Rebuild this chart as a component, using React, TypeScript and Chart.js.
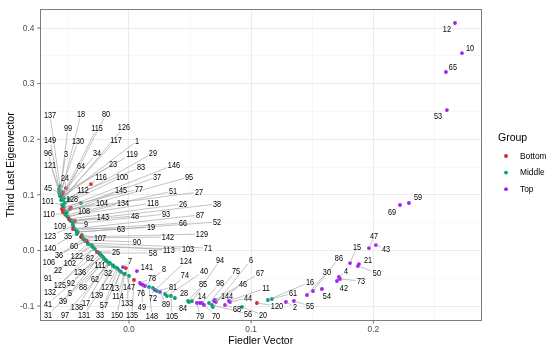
import React, { useEffect, useRef } from "react";
import { Chart, registerables } from "chart.js";

Chart.register(...registerables);

const B = "Bottom";
const M = "Middle";
const T = "Top";

const groupNames = [B, M, T];
const groupColors = ["#DD1C1C", "#009E73", "#A020F0"];

const ids = [
  1, 3, 18, 23, 24, 29, 34, 37, 45, 64,
  77, 80, 83, 95, 96, 99, 100, 101, 110, 112,
  115, 116, 117, 119, 121, 126, 130, 137, 145, 146,
  149, 128, 51, 27, 108, 104, 134, 118, 26, 38,
  143, 48, 93, 87, 109, 9, 63, 19, 66, 52,
  123, 35, 107, 142, 129, 90, 140, 60, 25, 58,
  113, 103, 71, 36, 122, 82, 106, 102, 111, 22,
  136, 32, 91, 92, 62, 125, 88, 127, 13, 132,
  5, 139, 114, 41, 39, 17, 57, 133, 138, 31,
  97, 131, 33, 150, 135, 148, 49, 7, 141, 147,
  78, 76, 8, 72, 124, 81, 89, 74, 105, 28,
  40, 84, 94, 85, 79, 14, 98, 70, 75, 6,
  56, 144, 46, 67, 68, 44, 11, 20, 120, 61,
  16, 2, 55, 30, 54, 86, 4, 42, 73, 15,
  21, 50, 47, 43, 69, 59, 12, 10, 65, 53,
];

const groups = [
  M, M, M, M, B, M, M, M, M, M,
  M, M, M, B, M, M, M, M, M, B,
  M, M, M, B, M, M, M, M, M, B,
  M, M, M, B, B, B, M, M, B, M,
  M, B, M, B, M, M, M, M, M, M,
  M, M, M, M, B, M, M, B, B, M,
  M, M, M, M, M, M, M, M, M, M,
  M, M, M, M, M, M, M, M, M, M,
  M, M, M, M, M, M, M, M, M, M,
  M, M, M, M, B, M, T, T, T, B,
  T, T, T, M, T, M, T, M, M, M,
  M, M, M, M, T, T, T, T, M, M,
  M, T, T, T, T, T, T, M, B, M,
  M, T, T, T, T, T, T, T, T, T,
  T, T, T, T, T, T, T, T, T, T,
];

const fiedler = [
  -0.0548, -0.0565, -0.0556, -0.0548, -0.0516, -0.0524, -0.0540, -0.0532, -0.0573, -0.0556,
  -0.0532, -0.0540, -0.0540, -0.0540, -0.0565, -0.0565, -0.0540, -0.0548, -0.0524, -0.0311,
  -0.0548, -0.0491, -0.0556, -0.0540, -0.0548, -0.0532, -0.0565, -0.0565, -0.0507, -0.0548,
  -0.0573, -0.0393, -0.0516, -0.0540, -0.0475, -0.0483, -0.0499, -0.0507, -0.0491, -0.0475,
  -0.0466, -0.0442, -0.0458, -0.0458, -0.0483, -0.0458, -0.0450, -0.0426, -0.0434, -0.0417,
  -0.0458, -0.0426, -0.0385, -0.0376, -0.0393, -0.0360, -0.0426, -0.0344, -0.0262, -0.0237,
  -0.0303, -0.0295, -0.0336, -0.0360, -0.0303, -0.0245, -0.0376, -0.0278, -0.0188, -0.0336,
  -0.0213, -0.0131, -0.0311, -0.0237, -0.0164, -0.0286, -0.0205, -0.0098, -0.0074, -0.0254,
  -0.0229, -0.0131, -0.0041, -0.0221, -0.0188, -0.0155, -0.0090, 0.0000, -0.0172, -0.0205,
  -0.0164, -0.0115, -0.0065, -0.0033, 0.0041, 0.0164, 0.0115, -0.0049, 0.0065, -0.0025,
  0.0090, 0.0098, 0.0131, 0.0196, 0.0213, 0.0229, 0.0254, 0.0295, 0.0344, 0.0376,
  0.0311, 0.0491, 0.0516, 0.0483, 0.0556, 0.0581, 0.0597, 0.0614, 0.0655, 0.0687,
  0.0679, 0.0696, 0.0712, 0.0704, 0.0786, 0.0827, 0.0818, 0.0925, 0.1047, 0.1170,
  0.1137, 0.1285, 0.1350, 0.1457, 0.1579, 0.1506, 0.1718, 0.1702, 0.1727, 0.1809,
  0.1882, 0.1874, 0.1964, 0.2021, 0.2218, 0.2291, 0.2668, 0.2725, 0.2594, 0.2602,
];

const thirdLast = [
  0.0942, 0.1068, 0.1014, 0.0978, 0.1122, 0.0853, 0.1050, 0.0727, 0.1050, 0.0996,
  0.0781, 0.0924, 0.0906, 0.0691, 0.0978, 0.1032, 0.0817, 0.0817, 0.0655, 0.1194,
  0.0960, 0.0924, 0.0906, 0.1032, 0.0996, 0.0942, 0.1014, 0.1158, 0.0691, 0.0745,
  0.1104, 0.0853, 0.0637, 0.0727, 0.0763, 0.0745, 0.0601, 0.0619, 0.0565, 0.0529,
  0.0529, 0.0529, 0.0475, 0.0385, 0.0547, 0.0511, 0.0403, 0.0331, 0.0367, 0.0331,
  0.0439, 0.0295, 0.0277, 0.0223, 0.0241, 0.0187, 0.0313, 0.0169, -0.0029, -0.0047,
  0.0097, 0.0061, 0.0133, 0.0169, 0.0079, -0.0047, 0.0205, 0.0025, -0.0173, 0.0115,
  -0.0119, -0.0263, 0.0097, -0.0065, -0.0227, 0.0043, -0.0137, -0.0317, -0.0371, -0.0029,
  -0.0083, -0.0281, -0.0424, -0.0101, -0.0191, -0.0227, -0.0335, -0.0460, -0.0209, -0.0155,
  -0.0245, -0.0299, -0.0388, -0.0424, -0.0532, -0.0658, -0.0622, -0.0299, -0.0371, -0.0317,
  -0.0586, -0.0604, -0.0640, -0.0676, -0.0712, -0.0730, -0.0748, -0.0784, -0.0820, -0.0856,
  -0.0820, -0.0928, -0.0910, -0.0910, -0.0946, -0.0946, -0.0946, -0.0982, -0.0946, -0.1018,
  -0.0982, -0.0910, -0.0928, -0.0892, -0.0982, -0.0928, -0.0910, -0.1018, -0.0946, -0.0874,
  -0.0892, -0.0928, -0.0910, -0.0802, -0.0694, -0.0730, -0.0478, -0.0550, -0.0514, -0.0227,
  -0.0245, -0.0281, 0.0043, 0.0097, 0.0817, 0.0853, 0.4090, 0.3550, 0.3209, 0.2525,
];

// repelled label anchors (data units)
const labelFiedler = [
  0.0065, -0.0516, -0.0393, -0.0131, -0.0524, 0.0196, -0.0262, 0.0229, -0.0663, -0.0393,
  0.0082, -0.0188, 0.0098, 0.0491, -0.0663, -0.0499, -0.0057, -0.0663, -0.0655, -0.0376,
  -0.0262, -0.0229, -0.0106, 0.0025, -0.0646, -0.0041, -0.0417, -0.0646, -0.0065, 0.0368,
  -0.0646, -0.0466, 0.0360, 0.0573, -0.0368, -0.0221, -0.0049, 0.0196, 0.0442, 0.0720,
  -0.0213, 0.0049, 0.0303, 0.0581, -0.0565, -0.0352, -0.0065, 0.0180, 0.0442, 0.0720,
  -0.0646, -0.0499, -0.0237, 0.0319, 0.0597, 0.0065, -0.0646, -0.0450, -0.0106, 0.0196,
  0.0327, 0.0483, 0.0646, -0.0573, -0.0426, -0.0319, -0.0655, -0.0483, -0.0237, -0.0581,
  -0.0401, -0.0172, -0.0663, -0.0475, -0.0278, -0.0565, -0.0376, -0.0180, -0.0115, -0.0646,
  -0.0483, -0.0262, -0.0090, -0.0663, -0.0540, -0.0352, -0.0205, -0.0016, -0.0426, -0.0663,
  -0.0524, -0.0368, -0.0237, -0.0098, 0.0025, 0.0188, 0.0106, 0.0008, 0.0147, 0.0000,
  0.0188, 0.0098, 0.0286, 0.0196, 0.0466, 0.0360, 0.0303, 0.0458, 0.0352, 0.0450,
  0.0614, 0.0442, 0.0745, 0.0606, 0.0581, 0.0597, 0.0745, 0.0712, 0.0876, 0.0998,
  0.0974, 0.0802, 0.0933, 0.1072, 0.0884, 0.0974, 0.1121, 0.1097, 0.1211, 0.1342,
  0.1481, 0.1358, 0.1481, 0.1620, 0.1620, 0.1718, 0.1776, 0.1759, 0.1899, 0.1866,
  0.1956, 0.2029, 0.2005, 0.2103, 0.2152, 0.2365, 0.2602, 0.2791, 0.2651, 0.2529,
];

const labelThirdLast = [
  0.1968, 0.1734, 0.2453, 0.1554, 0.1302, 0.1752, 0.1752, 0.1320, 0.1122, 0.1518,
  0.1104, 0.2453, 0.1500, 0.1320, 0.1752, 0.2201, 0.1320, 0.0888, 0.0655, 0.1086,
  0.2201, 0.1320, 0.1986, 0.1734, 0.1536, 0.2219, 0.1968, 0.2435, 0.1086, 0.1536,
  0.1986, 0.0924, 0.1068, 0.1050, 0.0709, 0.0853, 0.0853, 0.0853, 0.0835, 0.0835,
  0.0601, 0.0619, 0.0655, 0.0637, 0.0439, 0.0475, 0.0385, 0.0421, 0.0493, 0.0511,
  0.0259, 0.0259, 0.0223, 0.0241, 0.0295, 0.0151, 0.0043, 0.0079, -0.0029, -0.0047,
  0.0007, 0.0025, 0.0043, -0.0083, -0.0101, -0.0137, -0.0209, -0.0227, -0.0263, -0.0353,
  -0.0388, -0.0406, -0.0496, -0.0586, -0.0514, -0.0622, -0.0658, -0.0658, -0.0676, -0.0748,
  -0.0766, -0.0802, -0.0820, -0.0964, -0.0910, -0.0946, -0.0982, -0.0946, -0.1018, -0.1162,
  -0.1162, -0.1162, -0.1162, -0.1162, -0.1162, -0.1180, -0.1018, -0.0191, -0.0299, -0.0658,
  -0.0496, -0.0766, -0.0335, -0.0856, -0.0191, -0.0658, -0.0964, -0.0442, -0.1180, -0.0766,
  -0.0371, -0.1036, -0.0173, -0.0604, -0.1180, -0.0820, -0.0586, -0.1180, -0.0371, -0.0173,
  -0.1144, -0.0820, -0.0604, -0.0406, -0.1054, -0.0856, -0.0676, -0.1162, -0.1000, -0.0766,
  -0.0568, -0.1018, -0.1000, -0.0388, -0.0820, -0.0137, -0.0371, -0.0676, -0.0550, 0.0061,
  -0.0173, -0.0406, 0.0259, 0.0025, 0.0691, 0.0960, 0.3982, 0.3640, 0.3299, 0.2417,
];

const xGridValues = [-0.05, 0, 0.05, 0.1, 0.15, 0.2, 0.25];
const yGridValues = [-0.1, -0.05, 0, 0.05, 0.1, 0.15, 0.2, 0.25, 0.3, 0.35, 0.4];
const xTickValues = [0, 0.1, 0.2];
const xTickLabels = ["0.0", "0.1", "0.2"];
const yTickValues = [-0.1, 0, 0.1, 0.2, 0.3, 0.4];
const yTickLabels = ["-0.1", "0.0", "0.1", "0.2", "0.3", "0.4"];

const X_MIN = -0.0728;
const X_MAX = 0.2885;
const Y_MIN = -0.1264;
const Y_MAX = 0.4342;

const FONT = '"Liberation Sans", Arial, Helvetica, sans-serif';
const LABEL_SQUEEZE = 0.87;

const isMajor = (v: number) => Math.abs(v * 10 - Math.round(v * 10)) < 1e-6;

const decorPlugin = {
  id: "ggDecor",
  afterDatasetsDraw(chart: any) {
    const ctx: CanvasRenderingContext2D = chart.ctx;
    const xs = chart.scales.x;
    const ys = chart.scales.y;
    const area = chart.chartArea;

    ctx.save();
    ctx.beginPath();
    ctx.rect(area.left, area.top, area.right - area.left, area.bottom - area.top);
    ctx.clip();

    // leader segments
    ctx.font = `8.4px ${FONT}`;
    ctx.strokeStyle = "#9a9a9a";
    ctx.lineWidth = 0.6;
    for (let i = 0; i < ids.length; i++) {
      const px = xs.getPixelForValue(fiedler[i]);
      const py = ys.getPixelForValue(thirdLast[i]);
      const lx = xs.getPixelForValue(labelFiedler[i]);
      const ly = ys.getPixelForValue(labelThirdLast[i]);
      const w = ctx.measureText(String(ids[i])).width * LABEL_SQUEEZE;
      const hw = w / 2 + 1;
      const hh = 4.2;
      const dx = px - lx;
      const dy = py - ly;
      if (Math.abs(dx) <= hw && Math.abs(dy) <= hh) continue;
      const tx = dx === 0 ? Infinity : hw / Math.abs(dx);
      const ty = dy === 0 ? Infinity : hh / Math.abs(dy);
      const t = Math.min(tx, ty);
      const ex = lx + dx * t;
      const ey = ly + dy * t;
      if (Math.hypot(px - ex, py - ey) < 5) continue;
      ctx.beginPath();
      ctx.moveTo(ex, ey);
      ctx.lineTo(px, py);
      ctx.stroke();
    }

    // labels
    ctx.fillStyle = "#000000";
    ctx.textAlign = "center";
    ctx.textBaseline = "middle";
    for (let i = 0; i < ids.length; i++) {
      const lx = xs.getPixelForValue(labelFiedler[i]);
      const ly = ys.getPixelForValue(labelThirdLast[i]);
      ctx.save();
      ctx.translate(lx, ly + 0.5);
      ctx.scale(LABEL_SQUEEZE, 1);
      ctx.fillText(String(ids[i]), 0, 0);
      ctx.restore();
    }
    ctx.restore();

    // panel border
    ctx.save();
    ctx.strokeStyle = "#7d7d7d";
    ctx.lineWidth = 1;
    ctx.strokeRect(
      Math.round(area.left) + 0.5,
      Math.round(area.top) + 0.5,
      Math.round(area.right - area.left) - 1,
      Math.round(area.bottom - area.top) - 1
    );

    // ticks
    ctx.strokeStyle = "#4d4d4d";
    ctx.lineWidth = 0.8;
    ctx.fillStyle = "#4d4d4d";
    ctx.font = `8.4px ${FONT}`;
    ctx.textAlign = "center";
    ctx.textBaseline = "middle";
    xTickValues.forEach((v, k) => {
      const x = xs.getPixelForValue(v);
      ctx.beginPath();
      ctx.moveTo(x, area.bottom);
      ctx.lineTo(x, area.bottom + 2.8);
      ctx.stroke();
      ctx.fillText(xTickLabels[k], x, area.bottom + 8.8);
    });
    ctx.textAlign = "right";
    yTickValues.forEach((v, k) => {
      const y = ys.getPixelForValue(v);
      ctx.beginPath();
      ctx.moveTo(area.left - 2.8, y);
      ctx.lineTo(area.left, y);
      ctx.stroke();
      ctx.fillText(yTickLabels[k], area.left - 5.6, y + 0.5);
    });

    // axis titles
    ctx.fillStyle = "#000000";
    ctx.font = `10.5px ${FONT}`;
    ctx.textAlign = "center";
    ctx.fillText("Fiedler Vector", (area.left + area.right) / 2, area.bottom + 20.5);
    ctx.save();
    ctx.translate(11, (area.top + area.bottom) / 2);
    ctx.rotate(-Math.PI / 2);
    ctx.fillText("Third Last Eigenvector", 0, 0);
    ctx.restore();

    // legend
    ctx.textAlign = "left";
    ctx.font = `10.5px ${FONT}`;
    ctx.fillText("Group", 498, 138.5);
    ctx.font = `8.4px ${FONT}`;
    groupNames.forEach((g, k) => {
      const y = 156 + k * 16.6;
      ctx.fillStyle = groupColors[k];
      ctx.beginPath();
      ctx.arc(506, y, 1.9, 0, Math.PI * 2);
      ctx.fill();
      ctx.fillStyle = "#000000";
      ctx.fillText(g, 520, y + 0.5);
    });
    ctx.restore();
  },
};

export default function App() {
  const canvasRef = useRef<HTMLCanvasElement | null>(null);

  useEffect(() => {
    const canvas = canvasRef.current;
    if (!canvas) return;
    const datasets = groupNames.map((g, k) => ({
      label: g,
      data: ids
        .map((_, i) => i)
        .filter((i) => groups[i] === g)
        .map((i) => ({ x: fiedler[i], y: thirdLast[i] })),
      backgroundColor: groupColors[k],
      borderWidth: 0,
      pointRadius: 1.9,
      pointHoverRadius: 1.9,
    }));

    const gridColor = (c: any) =>
      c.tick && isMajor(c.tick.value) ? "#EBEBEB" : "#F4F4F4";
    const gridWidth = (c: any) => (c.tick && isMajor(c.tick.value) ? 1 : 0.7);

    const chart = new Chart(canvas, {
      type: "scatter",
      data: { datasets },
      options: {
        responsive: false,
        animation: false,
        devicePixelRatio: 1,
        layout: { padding: { left: 0, top: 9, right: 68.5, bottom: 0 } },
        plugins: {
          legend: { display: false },
          tooltip: { enabled: false },
        },
        scales: {
          x: {
            type: "linear",
            min: X_MIN,
            max: X_MAX,
            ticks: { display: false },
            border: { display: false },
            grid: { color: gridColor, lineWidth: gridWidth, drawTicks: false },
            afterBuildTicks: (s: any) => {
              s.ticks = xGridValues.map((v) => ({ value: v }));
            },
            afterFit: (s: any) => {
              s.height = 28.3;
            },
          },
          y: {
            type: "linear",
            min: Y_MIN,
            max: Y_MAX,
            ticks: { display: false },
            border: { display: false },
            grid: { color: gridColor, lineWidth: gridWidth, drawTicks: false },
            afterBuildTicks: (s: any) => {
              s.ticks = yGridValues.map((v) => ({ value: v }));
            },
            afterFit: (s: any) => {
              s.width = 40;
            },
          },
        },
      },
      plugins: [decorPlugin],
    } as any);

    return () => chart.destroy();
  }, []);

  return (
    <div style={{ position: "absolute", left: 0, top: 0, width: 550, height: 349, background: "#ffffff" }}>
      <canvas ref={canvasRef} width={550} height={349} />
    </div>
  );
}
